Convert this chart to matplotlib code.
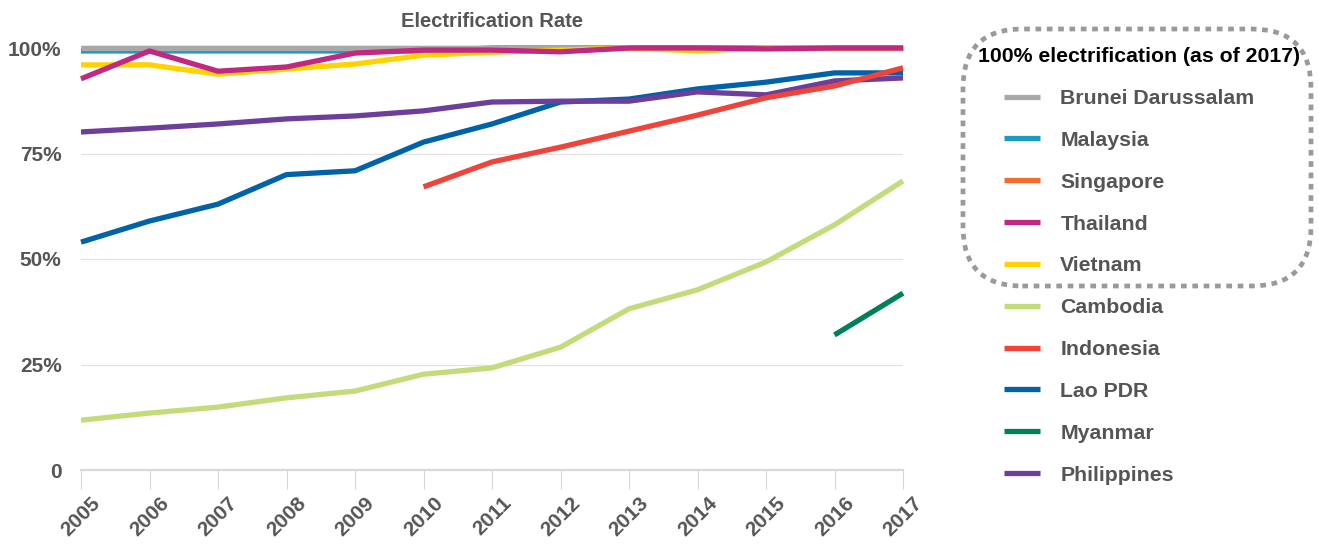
import numpy as np
import matplotlib
matplotlib.use("Agg")
import matplotlib.pyplot as plt
from matplotlib.patches import FancyBboxPatch

plt.rcParams['font.family'] = ['Liberation Sans', 'DejaVu Sans']

years = list(range(2005, 2018))

brunei = [100] * 13
malaysia = [99.3, 99.3, 99.3, 99.3, 99.3, 99.3, 100, 100, 100, 100, 100, 100, 100]
singapore = [100] * 13
thailand = [92.7, 99.3, 94.5, 95.5, 98.8, 99.5, 99.5, 99.1, 100, 100, 99.8, 100, 100]
vietnam = [96, 96, 93.8, 95, 96.2, 98.3, 99, 99.5, 100, 99.3, 100, 100, 100]
cambodia = [11.8, 13.5, 14.9, 17.1, 18.7, 22.7, 24.2, 29.1, 38.2, 42.7, 49.3, 58.1, 68.5]
indonesia = [None, None, None, None, None, 67.1, 73, 76.5, 80.3, 84.1, 88.2, 91, 95.3]
lao = [54, 59, 63, 70, 70.9, 77.7, 82, 87.2, 87.9, 90.3, 91.9, 94.1, 94.1]
myanmar = [None] * 11 + [32, 41.9]
philippines = [80.1, 81, 82, 83.2, 83.9, 85.1, 87.2, 87.4, 87.4, 89.6, 88.9, 92.2, 92.9]

series = [
    ("Brunei Darussalam", brunei, "#a8a8a8", 3),
    ("Malaysia", malaysia, "#1a9bc0", 2),
    ("Singapore", singapore, "#f26b2f", 1),
    ("Thailand", thailand, "#c0297f", 5),
    ("Vietnam", vietnam, "#ffd200", 4),
    ("Cambodia", cambodia, "#c2dc7c", 2),
    ("Indonesia", indonesia, "#f0443a", 4),
    ("Lao PDR", lao, "#0062a8", 2),
    ("Myanmar", myanmar, "#00805a", 2),
    ("Philippines", philippines, "#6d3f9a", 3),
]

fig = plt.figure(figsize=(13.19, 5.44), dpi=100)
ax = fig.add_axes([81 / 1319, 1 - 470 / 544, (903 - 81) / 1319, (470 - 48) / 544])

handles = []
for name, vals, col, z in series:
    v = np.array([np.nan if x is None else x for x in vals], dtype=float)
    h, = ax.plot(years, v, color=col, lw=3.8, zorder=z, clip_on=False,
                 solid_capstyle='butt', label=name)
    handles.append(h)

ax.set_xlim(2005, 2017)
ax.set_ylim(0, 100)
ax.set_yticks([0, 25, 50, 75, 100])
ax.set_yticklabels(["0", "25%", "50%", "75%", "100%"])
ax.set_xticks(years)
ax.set_xticklabels([str(y) for y in years], rotation=45, ha='center', va='top')

for s in ['top', 'right', 'left']:
    ax.spines[s].set_visible(False)
ax.spines['bottom'].set_color('#d8d8d8')
ax.spines['bottom'].set_linewidth(1.6)
ax.grid(axis='y', color='#e3e3e3', lw=0.9, zorder=0)
ax.set_axisbelow(True)
ax.tick_params(axis='x', length=14, width=0.8, color='#d8d8d8', pad=3,
               labelsize=15, labelcolor='#555555')
ax.tick_params(axis='y', length=0, pad=14, labelsize=15, labelcolor='#555555')
for lab in ax.get_xticklabels() + ax.get_yticklabels():
    lab.set_fontweight('bold')

ax.set_title("Electrification Rate", fontsize=14.5, fontweight='bold', color='#555555', pad=15)

leg = fig.legend(handles=handles, loc='upper left', bbox_to_anchor=(1004 / 1319, 1 - 89 / 544),
                 frameon=False, fontsize=15.3, handlelength=1.7, handletextpad=0.95,
                 labelspacing=1.075, borderpad=0, borderaxespad=0)
for t in leg.get_texts():
    t.set_color('#555555')
    t.set_fontweight('bold')
for l in leg.get_lines():
    l.set_linewidth(3.8)

fig.text(1139 / 1319, 1 - 57 / 544, "100% electrification (as of 2017)", ha='center', va='center',
         fontsize=15.3, fontweight='bold', color='black')

box = FancyBboxPatch((963 / 1319, 1 - 286 / 544), (1311 - 963) / 1319, (286 - 29) / 544,
                     boxstyle="round,pad=0,rounding_size=0.045", transform=fig.transFigure,
                     fill=False, edgecolor='#9a9a9a', lw=3.4, linestyle=(0, (1.2, 1.2)),
                     mutation_aspect=1319 / 544)
fig.patches.append(box)

fig.savefig("out.png", dpi=100)
